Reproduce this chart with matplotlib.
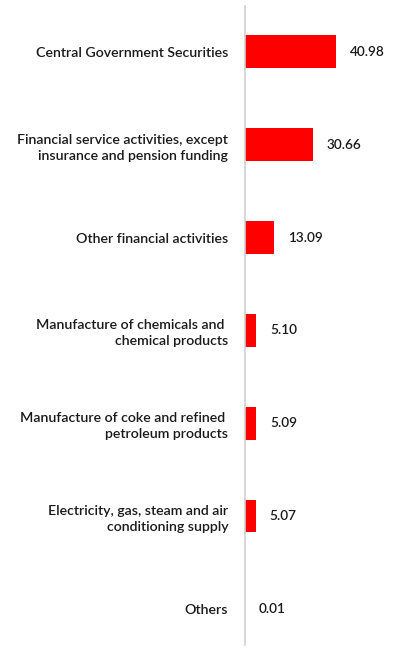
import matplotlib
matplotlib.use("Agg")
import matplotlib.pyplot as plt

categories = [
    "Central Government Securities",
    "Financial service activities, except\ninsurance and pension funding",
    "Other financial activities",
    "Manufacture of chemicals and \nchemical products",
    "Manufacture of coke and refined \npetroleum products",
    "Electricity, gas, steam and air\nconditioning supply",
    "Others",
]
values = [40.98, 30.66, 13.09, 5.10, 5.09, 5.07, 0.01]
value_labels = ["40.98", "30.66", "13.09", "5.10", "5.09", "5.07", "0.01"]

plt.rcParams['font.family'] = ['Lato', 'DejaVu Sans']

fig = plt.figure(figsize=(4.01, 6.49), dpi=100)
ax = fig.add_axes([245/401, 4/649, 156/401, 639/649])

ypos = list(range(len(categories)))
ax.barh(ypos, values, height=0.355, color="#ff0000")
ax.set_xlim(0, 70.0)
ax.set_ylim(6.39, -0.495)

for y, v, lab in zip(ypos, values, value_labels):
    ax.annotate(lab, (v, y), xytext=(9.7, 0), textcoords="offset points",
                ha="left", va="center", fontsize=9.8, color="#1a1a1a",
                fontweight="semibold")

ax.set_yticks(ypos)
ax.set_yticklabels(categories, fontsize=10.2, color="#1a1a1a", ha="right",
                   fontweight="semibold", linespacing=1.4)
ax.tick_params(axis="y", length=0, pad=12)
ax.set_xticks([])
for s in ["top", "right", "bottom"]:
    ax.spines[s].set_visible(False)
ax.spines["left"].set_color("#d0d0d0")
ax.spines["left"].set_linewidth(1.2)

fig.savefig("out.png", dpi=100)
